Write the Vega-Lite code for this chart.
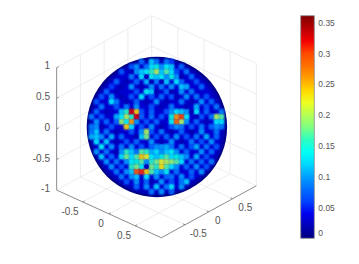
{"$schema":"https://vega.github.io/schema/vega-lite/v6.json","width":359,"height":264,"padding":0,"autosize":{"type":"none"},"background":"white","config":{"view":{"stroke":null}},
"datasets":{"cells":[
{"h":-3,"v":13,"c":0.08},{"h":-1,"v":13,"c":0.12},{"h":0,"v":13,"c":0.09},{"h":2,"v":13,"c":0.09},{"h":3,"v":13,"c":0.06},{"h":-5,"v":12,"c":0.07},{"h":5,"v":12,"c":0.08},{"h":-7,"v":11,"c":0.07},{"h":-12,"v":5,"c":0.07},{"h":13,"v":3,"c":0.09},{"h":-13,"v":2,"c":0.09},{"h":13,"v":2,"c":0.17},{"h":13,"v":1,"c":0.13},{"h":-13,"v":0,"c":0.09},{"h":13,"v":0,"c":0.09},{"h":-13,"v":-1,"c":0.09},{"h":-13,"v":-2,"c":0.11},{"h":-12,"v":-5,"c":0.1},{"h":11,"v":-7,"c":0.09},{"h":-1,"v":-13,"c":0.09},{"h":1,"v":-13,"c":0.1},{"h":3,"v":-13,"c":0.08},{"h":5,"v":-12,"c":0.1},
{"h":-4,"v":12,"c":0.1},{"h":-2,"v":12,"c":0.09},{"h":-1,"v":12,"c":0.13},{"h":0,"v":12,"c":0.15},{"h":1,"v":12,"c":0.1},{"h":2,"v":12,"c":0.14},{"h":3,"v":12,"c":0.12},
{"h":-5,"v":11,"c":0.02},{"h":-4,"v":11,"c":0.1},{"h":-3,"v":11,"c":0.12},{"h":-2,"v":11,"c":0.14},{"h":-1,"v":11,"c":0.16},{"h":0,"v":11,"c":0.2},{"h":1,"v":11,"c":0.12},{"h":2,"v":11,"c":0.17},{"h":3,"v":11,"c":0.13},{"h":4,"v":11,"c":0.07},{"h":6,"v":11,"c":0.09},
{"h":-5,"v":10,"c":0.09},{"h":-3,"v":10,"c":0.13},{"h":-2,"v":10,"c":0.02},{"h":-1,"v":10,"c":0.14},{"h":0,"v":10,"c":0.12},{"h":1,"v":10,"c":0.14},{"h":2,"v":10,"c":0.1},{"h":3,"v":10,"c":0.15},{"h":4,"v":10,"c":0.1},{"h":5,"v":10,"c":0.02},{"h":7,"v":10,"c":0.08},
{"h":-8,"v":9,"c":0.08},{"h":-6,"v":9,"c":0.02},{"h":-4,"v":9,"c":0.08},{"h":-2,"v":9,"c":0.11},{"h":-1,"v":9,"c":0.02},{"h":0,"v":9,"c":0.09},{"h":1,"v":9,"c":0.02},{"h":2,"v":9,"c":0.12},{"h":4,"v":9,"c":0.13},{"h":5,"v":9,"c":0.08},{"h":8,"v":9,"c":0.07},
{"h":-9,"v":8,"c":0.06},{"h":-7,"v":8,"c":0.02},{"h":-5,"v":8,"c":0.1},{"h":-3,"v":8,"c":0.02},{"h":-1,"v":8,"c":0.1},{"h":1,"v":8,"c":0.09},{"h":3,"v":8,"c":0.1},{"h":5,"v":8,"c":0.12},{"h":6,"v":8,"c":0.11},{"h":9,"v":8,"c":0.08},
{"h":-10,"v":7,"c":0.08},{"h":-8,"v":7,"c":0.02},{"h":-4,"v":7,"c":0.07},{"h":-2,"v":7,"c":0.14},{"h":-1,"v":7,"c":0.12},{"h":0,"v":7,"c":0.02},{"h":2,"v":7,"c":0.08},{"h":3,"v":7,"c":0.02},{"h":5,"v":7,"c":0.1},{"h":7,"v":7,"c":0.09},
{"h":-11,"v":6,"c":0.07},{"h":-9,"v":6,"c":0.1},{"h":-7,"v":6,"c":0.02},{"h":-5,"v":6,"c":0.07},{"h":-3,"v":6,"c":0.13},{"h":-1,"v":6,"c":0.07},{"h":1,"v":6,"c":0.08},{"h":3,"v":6,"c":0.07},{"h":4,"v":6,"c":0.02},{"h":6,"v":6,"c":0.1},{"h":8,"v":6,"c":0.09},{"h":10,"v":6,"c":0.07},
{"h":-9,"v":5,"c":0.13},{"h":-8,"v":5,"c":0.09},{"h":-6,"v":5,"c":0.02},{"h":-4,"v":5,"c":0.08},{"h":-2,"v":5,"c":0.02},{"h":0,"v":5,"c":0.1},{"h":2,"v":5,"c":0.02},{"h":5,"v":5,"c":0.09},{"h":7,"v":5,"c":0.02},{"h":9,"v":5,"c":0.1},{"h":11,"v":5,"c":0.08},
{"h":-11,"v":4,"c":0.09},{"h":-8,"v":4,"c":0.07},{"h":-6,"v":4,"c":0.09},{"h":-4,"v":4,"c":0.1},{"h":-1,"v":4,"c":0.07},{"h":1,"v":4,"c":0.02},{"h":3,"v":4,"c":0.09},{"h":6,"v":4,"c":0.02},{"h":8,"v":4,"c":0.11},{"h":10,"v":4,"c":0.07},{"h":12,"v":4,"c":0.09},
{"h":-12,"v":3,"c":0.08},{"h":-10,"v":3,"c":0.02},{"h":-7,"v":3,"c":0.12},{"h":-6,"v":3,"c":0.16},{"h":-5,"v":3,"c":0.33},{"h":-4,"v":3,"c":0.24},{"h":-3,"v":3,"c":0.07},{"h":-1,"v":3,"c":0.08},{"h":2,"v":3,"c":0.07},{"h":3,"v":3,"c":0.1},{"h":4,"v":3,"c":0.13},{"h":5,"v":3,"c":0.12},{"h":6,"v":3,"c":0.1},{"h":7,"v":3,"c":0.02},{"h":8,"v":3,"c":0.13},{"h":10,"v":3,"c":0.08},
{"h":-11,"v":2,"c":0.07},{"h":-8,"v":2,"c":0.11},{"h":-7,"v":2,"c":0.14},{"h":-6,"v":2,"c":0.2},{"h":-5,"v":2,"c":0.16},{"h":-4,"v":2,"c":0.33},{"h":-3,"v":2,"c":0.08},{"h":-1,"v":2,"c":0.09},{"h":1,"v":2,"c":0.07},{"h":3,"v":2,"c":0.15},{"h":4,"v":2,"c":0.26},{"h":5,"v":2,"c":0.3},{"h":6,"v":2,"c":0.14},{"h":8,"v":2,"c":0.02},{"h":9,"v":2,"c":0.07},{"h":11,"v":2,"c":0.09},{"h":12,"v":2,"c":0.2},
{"h":-12,"v":1,"c":0.1},{"h":-10,"v":1,"c":0.08},{"h":-8,"v":1,"c":0.08},{"h":-7,"v":1,"c":0.19},{"h":-6,"v":1,"c":0.14},{"h":-5,"v":1,"c":0.26},{"h":-4,"v":1,"c":0.1},{"h":-2,"v":1,"c":0.07},{"h":0,"v":1,"c":0.08},{"h":3,"v":1,"c":0.14},{"h":4,"v":1,"c":0.28},{"h":5,"v":1,"c":0.2},{"h":6,"v":1,"c":0.1},{"h":8,"v":1,"c":0.08},{"h":10,"v":1,"c":0.02},{"h":12,"v":1,"c":0.13},
{"h":-12,"v":0,"c":0.1},{"h":-11,"v":0,"c":0.02},{"h":-9,"v":0,"c":0.07},{"h":-6,"v":0,"c":0.24},{"h":-5,"v":0,"c":0.13},{"h":-3,"v":0,"c":0.07},{"h":-1,"v":0,"c":0.1},{"h":1,"v":0,"c":0.02},{"h":3,"v":0,"c":0.07},{"h":4,"v":0,"c":0.1},{"h":5,"v":0,"c":0.09},{"h":7,"v":0,"c":0.07},{"h":9,"v":0,"c":0.09},{"h":11,"v":0,"c":0.08},{"h":12,"v":0,"c":0.1},
{"h":-12,"v":-1,"c":0.12},{"h":-10,"v":-1,"c":0.09},{"h":-8,"v":-1,"c":0.02},{"h":-5,"v":-1,"c":0.07},{"h":-3,"v":-1,"c":0.1},{"h":-2,"v":-1,"c":0.2},{"h":-1,"v":-1,"c":0.07},{"h":1,"v":-1,"c":0.09},{"h":3,"v":-1,"c":0.02},{"h":5,"v":-1,"c":0.08},{"h":7,"v":-1,"c":0.02},{"h":9,"v":-1,"c":0.1},{"h":12,"v":-1,"c":0.09},
{"h":-12,"v":-2,"c":0.12},{"h":-11,"v":-2,"c":0.1},{"h":-9,"v":-2,"c":0.11},{"h":-7,"v":-2,"c":0.08},{"h":-4,"v":-2,"c":0.02},{"h":-3,"v":-2,"c":0.12},{"h":-2,"v":-2,"c":0.18},{"h":0,"v":-2,"c":0.07},{"h":2,"v":-2,"c":0.08},{"h":4,"v":-2,"c":0.1},{"h":6,"v":-2,"c":0.07},{"h":8,"v":-2,"c":0.09},{"h":10,"v":-2,"c":0.11},{"h":12,"v":-2,"c":0.08},
{"h":-12,"v":-3,"c":0.13},{"h":-10,"v":-3,"c":0.12},{"h":-8,"v":-3,"c":0.02},{"h":-6,"v":-3,"c":0.07},{"h":-4,"v":-3,"c":0.08},{"h":-1,"v":-3,"c":0.1},{"h":1,"v":-3,"c":0.02},{"h":3,"v":-3,"c":0.1},{"h":5,"v":-3,"c":0.02},{"h":7,"v":-3,"c":0.09},{"h":9,"v":-3,"c":0.07},{"h":11,"v":-3,"c":0.1},
{"h":-11,"v":-4,"c":0.14},{"h":-9,"v":-4,"c":0.1},{"h":-7,"v":-4,"c":0.09},{"h":-5,"v":-4,"c":0.1},{"h":-3,"v":-4,"c":0.07},{"h":-1,"v":-4,"c":0.08},{"h":0,"v":-4,"c":0.1},{"h":1,"v":-4,"c":0.1},{"h":2,"v":-4,"c":0.11},{"h":3,"v":-4,"c":0.09},{"h":5,"v":-4,"c":0.09},{"h":7,"v":-4,"c":0.07},{"h":8,"v":-4,"c":0.11},{"h":10,"v":-4,"c":0.09},{"h":12,"v":-4,"c":0.07},
{"h":-10,"v":-5,"c":0.09},{"h":-8,"v":-5,"c":0.02},{"h":-7,"v":-5,"c":0.1},{"h":-6,"v":-5,"c":0.16},{"h":-5,"v":-5,"c":0.12},{"h":-4,"v":-5,"c":0.09},{"h":-3,"v":-5,"c":0.17},{"h":-2,"v":-5,"c":0.16},{"h":-1,"v":-5,"c":0.11},{"h":0,"v":-5,"c":0.13},{"h":1,"v":-5,"c":0.1},{"h":2,"v":-5,"c":0.12},{"h":3,"v":-5,"c":0.14},{"h":4,"v":-5,"c":0.1},{"h":6,"v":-5,"c":0.08},{"h":9,"v":-5,"c":0.1},{"h":11,"v":-5,"c":0.08},
{"h":-11,"v":-6,"c":0.12},{"h":-9,"v":-6,"c":0.08},{"h":-7,"v":-6,"c":0.13},{"h":-6,"v":-6,"c":0.18},{"h":-5,"v":-6,"c":0.13},{"h":-4,"v":-6,"c":0.17},{"h":-3,"v":-6,"c":0.24},{"h":-2,"v":-6,"c":0.22},{"h":-1,"v":-6,"c":0.14},{"h":0,"v":-6,"c":0.12},{"h":1,"v":-6,"c":0.15},{"h":2,"v":-6,"c":0.17},{"h":3,"v":-6,"c":0.13},{"h":4,"v":-6,"c":0.15},{"h":5,"v":-6,"c":0.12},{"h":6,"v":-6,"c":0.1},{"h":8,"v":-6,"c":0.11},{"h":10,"v":-6,"c":0.07},
{"h":-10,"v":-7,"c":0.1},{"h":-8,"v":-7,"c":0.09},{"h":-6,"v":-7,"c":0.1},{"h":-5,"v":-7,"c":0.14},{"h":-4,"v":-7,"c":0.15},{"h":-3,"v":-7,"c":0.17},{"h":-2,"v":-7,"c":0.1},{"h":-1,"v":-7,"c":0.16},{"h":0,"v":-7,"c":0.18},{"h":1,"v":-7,"c":0.22},{"h":2,"v":-7,"c":0.2},{"h":3,"v":-7,"c":0.19},{"h":4,"v":-7,"c":0.17},{"h":5,"v":-7,"c":0.13},{"h":7,"v":-7,"c":0.09},{"h":9,"v":-7,"c":0.08},
{"h":-9,"v":-8,"c":0.1},{"h":-7,"v":-8,"c":0.07},{"h":-5,"v":-8,"c":0.16},{"h":-4,"v":-8,"c":0.18},{"h":-3,"v":-8,"c":0.14},{"h":-2,"v":-8,"c":0.02},{"h":-1,"v":-8,"c":0.18},{"h":0,"v":-8,"c":0.16},{"h":1,"v":-8,"c":0.23},{"h":2,"v":-8,"c":0.17},{"h":3,"v":-8,"c":0.13},{"h":4,"v":-8,"c":0.1},{"h":6,"v":-8,"c":0.08},{"h":8,"v":-8,"c":0.1},{"h":10,"v":-8,"c":0.07},
{"h":-8,"v":-9,"c":0.09},{"h":-6,"v":-9,"c":0.1},{"h":-5,"v":-9,"c":0.12},{"h":-4,"v":-9,"c":0.29},{"h":-3,"v":-9,"c":0.31},{"h":-2,"v":-9,"c":0.24},{"h":-1,"v":-9,"c":0.17},{"h":0,"v":-9,"c":0.12},{"h":1,"v":-9,"c":0.1},{"h":2,"v":-9,"c":0.14},{"h":4,"v":-9,"c":0.09},{"h":7,"v":-9,"c":0.08},{"h":9,"v":-9,"c":0.1},
{"h":-7,"v":-10,"c":0.09},{"h":-5,"v":-10,"c":0.1},{"h":-4,"v":-10,"c":0.12},{"h":-2,"v":-10,"c":0.13},{"h":0,"v":-10,"c":0.1},{"h":2,"v":-10,"c":0.08},{"h":3,"v":-10,"c":0.09},{"h":5,"v":-10,"c":0.1},{"h":7,"v":-10,"c":0.07},
{"h":-6,"v":-11,"c":0.07},{"h":-4,"v":-11,"c":0.1},{"h":-2,"v":-11,"c":0.08},{"h":-1,"v":-11,"c":0.02},{"h":1,"v":-11,"c":0.1},{"h":3,"v":-11,"c":0.07},{"h":5,"v":-11,"c":0.09},{"h":6,"v":-11,"c":0.12},
{"h":-4,"v":-12,"c":0.08},{"h":-2,"v":-12,"c":0.1},{"h":0,"v":-12,"c":0.12},{"h":2,"v":-12,"c":0.09},{"h":3,"v":-12,"c":0.13}]},
"encoding":{"x":{"field":"h","type":"quantitative","axis":null,"scale":{"domain":[-31.3,40.5],"nice":false,"zero":false}},"y":{"field":"v","type":"quantitative","axis":null,"scale":{"domain":[-27.46,25.34],"nice":false,"zero":false}}},
"layer":[
{"data":{"values":[
{"h":-14.735,"v":-15.055,"h2":4.265,"v2":-4.655},{"h":-9.5,"v":-17.44,"h2":9.5,"v2":-7.04},{"h":-4.265,"v":-19.825,"h2":14.735,"v2":-9.425},
{"h":-19.97,"v":-12.67,"h2":-0.97,"v2":-2.27},{"h":-0.97,"v":-2.27,"h2":19.97,"v2":-11.81},
{"h":-15.22,"v":-10.07,"h2":5.72,"v2":-19.61},{"h":-10.47,"v":-7.47,"h2":10.47,"v2":-17.01},{"h":-5.72,"v":-4.87,"h2":15.22,"v2":-14.41},
{"h":-15.22,"v":-10.07,"h2":-15.22,"v2":14.41},{"h":-10.47,"v":-7.47,"h2":-10.47,"v2":17.01},{"h":-5.72,"v":-4.87,"h2":-5.72,"v2":19.61},{"h":-0.97,"v":-2.27,"h2":-0.97,"v2":22.21},
{"h":-19.97,"v":-6.55,"h2":-0.97,"v2":3.85},{"h":-19.97,"v":-0.43,"h2":-0.97,"v2":9.97},{"h":-19.97,"v":5.69,"h2":-0.97,"v2":16.09},{"h":-19.97,"v":11.81,"h2":-0.97,"v2":22.21},
{"h":4.265,"v":-4.655,"h2":4.265,"v2":19.825},{"h":9.5,"v":-7.04,"h2":9.5,"v2":17.44},{"h":14.735,"v":-9.425,"h2":14.735,"v2":15.055},{"h":19.97,"v":-11.81,"h2":19.97,"v2":12.67},
{"h":-0.97,"v":3.85,"h2":19.97,"v2":-5.69},{"h":-0.97,"v":9.97,"h2":19.97,"v2":0.43},{"h":-0.97,"v":16.09,"h2":19.97,"v2":6.55},{"h":-0.97,"v":22.21,"h2":19.97,"v2":12.67}]},
"mark":{"type":"rule","color":"#e9e9e9","strokeWidth":0.8},"encoding":{"x2":{"field":"h2"},"y2":{"field":"v2"}}},
{"data":{"values":[
{"h":-19.97,"v":-12.67,"h2":-19.97,"v2":11.81},{"h":-19.97,"v":-12.67,"h2":0.97,"v2":-22.21},{"h":0.97,"v":-22.21,"h2":19.97,"v2":-11.81},
{"h":-19.97,"v":11.81,"h2":-19.57,"v2":12.01},{"h":-19.97,"v":5.69,"h2":-19.57,"v2":5.89},{"h":-19.97,"v":-0.43,"h2":-19.57,"v2":-0.23},{"h":-19.97,"v":-6.55,"h2":-19.57,"v2":-6.35},
{"h":-14.735,"v":-15.055,"h2":-14.375,"v2":-14.855},{"h":-9.5,"v":-17.44,"h2":-9.14,"v2":-17.24},{"h":-4.265,"v":-19.825,"h2":-3.905,"v2":-19.625},
{"h":5.72,"v":-19.61,"h2":5.32,"v2":-19.43},{"h":10.47,"v":-17.01,"h2":10.07,"v2":-16.83},{"h":15.22,"v":-14.41,"h2":14.82,"v2":-14.23}]},
"mark":{"type":"rule","color":"#8c8c8c","strokeWidth":1},"encoding":{"x2":{"field":"h2"},"y2":{"field":"v2"}}},
{"data":{"values":[{"h":0.08,"v":-0.06}]},"mark":{"type":"circle","size":19712,"opacity":1,"color":"#000088"}},
{"data":{"values":[{"h":0.08,"v":-0.06}]},"mark":{"type":"circle","size":18496,"opacity":1,"color":"#0000b4"}},
{"data":{"values":[{"h":0.08,"v":-0.06}]},"mark":{"type":"circle","size":16641,"opacity":1,"color":"#0000d0"}},
{"data":{"name":"cells"},"mark":{"type":"circle","size":60,"opacity":1,"fillOpacity":0.35},
"encoding":{"order":{"field":"c","type":"quantitative"},"color":{"field":"c","type":"quantitative","title":null,"scale":{"domain":[0,0.3614],"range":["#000080","#0000ff","#0080ff","#00ffff","#80ff80","#ffff00","#ff8000","#ff0000","#800000"]}}}},
{"data":{"name":"cells"},"mark":{"type":"circle","size":24,"opacity":1,"fillOpacity":0.8},
"encoding":{"order":{"field":"c","type":"quantitative"},"color":{"field":"c","type":"quantitative","title":null,"scale":{"domain":[0,0.3614],"range":["#000080","#0000ff","#0080ff","#00ffff","#80ff80","#ffff00","#ff8000","#ff0000","#800000"]},"legend":{"orient":"none","legendX":300.7,"legendY":15.7,"direction":"vertical","type":"gradient","gradientLength":222.6,"gradientThickness":13.6,"gradientStrokeColor":"#8c8c8c","gradientStrokeWidth":0.8,"gradientOpacity":1,"values":[0,0.05,0.1,0.15,0.2,0.25,0.3,0.35],"format":".2~f","labelFont":"Liberation Sans","labelFontSize":8.5,"labelColor":"#555555","labelOffset":4,"labelOverlap":false,"padding":0}}}},
{"data":{"values":[{"h":-21.3,"v":12.14,"t":"1"},{"h":-21.3,"v":5.94,"t":"0.5"},{"h":-21.3,"v":-0.16,"t":"0"},{"h":-21.3,"v":-6.4,"t":"-0.5"},{"h":-21.3,"v":-12.4,"t":"-1"}]},
"mark":{"type":"text","align":"right","baseline":"middle","font":"Liberation Sans","fontSize":10,"color":"#555555"},"encoding":{"text":{"field":"t"}}},
{"data":{"values":[{"h":-17.3,"v":-17.06,"t":"-0.5"},{"h":-11.1,"v":-19.46,"t":"0"},{"h":-6.5,"v":-21.8,"t":"0.5"},{"h":8.36,"v":-21.46,"t":"-0.5"},{"h":12.24,"v":-18.86,"t":"0"},{"h":17.76,"v":-16.26,"t":"0.5"}]},
"mark":{"type":"text","align":"center","baseline":"middle","font":"Liberation Sans","fontSize":10,"color":"#555555"},"encoding":{"text":{"field":"t"}}}
]}
